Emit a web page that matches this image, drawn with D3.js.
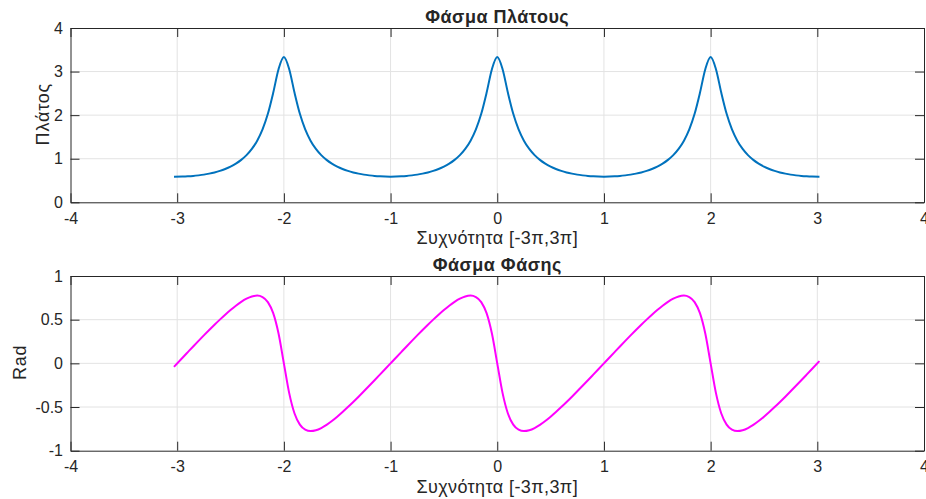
<!DOCTYPE html>
<html>
<head>
<meta charset="utf-8">
<script src="https://cdn.jsdelivr.net/npm/d3@7"></script>
<style>
  html, body { margin: 0; padding: 0; background: #fff; }
  svg { display: block; }
  text { font-family: "Liberation Sans", Arial, Helvetica, sans-serif; fill: #262626; }
</style>
</head>
<body>
<svg id="chart" width="926" height="499"></svg>
<script>
// Frequency samples, in units of pi (about -3pi .. 3pi)
const frequency = [
  -3.03,
  -2.95, -2.9, -2.85, -2.8, -2.75, -2.7, -2.65, -2.6, -2.55, -2.5, -2.45, -2.4, -2.35, -2.3, -2.25, -2.2, -2.15, -2.1, -2.05, -2,
  -1.95, -1.9, -1.85, -1.8, -1.75, -1.7, -1.65, -1.6, -1.55, -1.5, -1.45, -1.4, -1.35, -1.3, -1.25, -1.2, -1.15, -1.1, -1.05, -1,
  -0.95, -0.9, -0.85, -0.8, -0.75, -0.7, -0.65, -0.6, -0.55, -0.5, -0.45, -0.4, -0.35, -0.3, -0.25, -0.2, -0.15, -0.1, -0.05, 0,
  0.05, 0.1, 0.15, 0.2, 0.25, 0.3, 0.35, 0.4, 0.45, 0.5, 0.55, 0.6, 0.65, 0.7, 0.75, 0.8, 0.85, 0.9, 0.95, 1,
  1.05, 1.1, 1.15, 1.2, 1.25, 1.3, 1.35, 1.4, 1.45, 1.5, 1.55, 1.6, 1.65, 1.7, 1.75, 1.8, 1.85, 1.9, 1.95, 2,
  2.05, 2.1, 2.15, 2.2, 2.25, 2.3, 2.35, 2.4, 2.45, 2.5, 2.55, 2.6, 2.65, 2.7, 2.75, 2.8, 2.85, 2.9, 2.95, 3.02
];

// Amplitude spectrum |H|
const amplitude = [
  0.588,
  0.590, 0.595, 0.604, 0.618, 0.635, 0.658, 0.686, 0.721, 0.765, 0.819, 0.887, 0.973, 1.082, 1.224, 1.414, 1.673, 2.030, 2.512, 3.054, 3.333,
  3.054, 2.512, 2.030, 1.673, 1.414, 1.224, 1.082, 0.973, 0.887, 0.819, 0.765, 0.721, 0.686, 0.658, 0.635, 0.618, 0.604, 0.595, 0.590, 0.588,
  0.590, 0.595, 0.604, 0.618, 0.635, 0.658, 0.686, 0.721, 0.765, 0.819, 0.887, 0.973, 1.082, 1.224, 1.414, 1.673, 2.030, 2.512, 3.054, 3.333,
  3.054, 2.512, 2.030, 1.673, 1.414, 1.224, 1.082, 0.973, 0.887, 0.819, 0.765, 0.721, 0.686, 0.658, 0.635, 0.618, 0.604, 0.595, 0.590, 0.588,
  0.590, 0.595, 0.604, 0.618, 0.635, 0.658, 0.686, 0.721, 0.765, 0.819, 0.887, 0.973, 1.082, 1.224, 1.414, 1.673, 2.030, 2.512, 3.054, 3.333,
  3.054, 2.512, 2.030, 1.673, 1.414, 1.224, 1.082, 0.973, 0.887, 0.819, 0.765, 0.721, 0.686, 0.658, 0.635, 0.618, 0.604, 0.595, 0.590, 0.588
];

// Phase spectrum (rad)
const phase = [
  -0.04,
  0.0647, 0.1291, 0.1933, 0.2569, 0.3197, 0.3816, 0.4421, 0.5008, 0.5573, 0.6107, 0.6602, 0.7042, 0.7407, 0.7662, 0.7754, 0.7591, 0.7013, 0.5744, 0.3409, 0,
  -0.3409, -0.5744, -0.7013, -0.7591, -0.7754, -0.7662, -0.7407, -0.7042, -0.6602, -0.6107, -0.5573, -0.5008, -0.4421, -0.3816, -0.3197, -0.2569, -0.1933, -0.1291, -0.0647, 0,
  0.0647, 0.1291, 0.1933, 0.2569, 0.3197, 0.3816, 0.4421, 0.5008, 0.5573, 0.6107, 0.6602, 0.7042, 0.7407, 0.7662, 0.7754, 0.7591, 0.7013, 0.5744, 0.3409, 0,
  -0.3409, -0.5744, -0.7013, -0.7591, -0.7754, -0.7662, -0.7407, -0.7042, -0.6602, -0.6107, -0.5573, -0.5008, -0.4421, -0.3816, -0.3197, -0.2569, -0.1933, -0.1291, -0.0647, 0,
  0.0647, 0.1291, 0.1933, 0.2569, 0.3197, 0.3816, 0.4421, 0.5008, 0.5573, 0.6107, 0.6602, 0.7042, 0.7407, 0.7662, 0.7754, 0.7591, 0.7013, 0.5744, 0.3409, 0,
  -0.3409, -0.5744, -0.7013, -0.7591, -0.7754, -0.7662, -0.7407, -0.7042, -0.6602, -0.6107, -0.5573, -0.5008, -0.4421, -0.3816, -0.3197, -0.2569, -0.1933, -0.1291, -0.0647, 0.026
];

// Tick values
const xTicks = [-4, -3, -2, -1, 0, 1, 2, 3, 4];
const ampTicks = [0, 1, 2, 3, 4];
const phaseTicks = [-1, -0.5, 0, 0.5, 1];

const svg = d3.select("#chart");

const panels = [
  {
    title: "Φάσμα Πλάτους", ylabel: "Πλάτος", values: amplitude, color: "#0072BD",
    yDomain: [0, 4], yTicks: ampTicks, top: 28, bottom: 202.3, ylabelX: 48.5
  },
  {
    title: "Φάσμα Φάσης", ylabel: "Rad", values: phase, color: "#FF00FF",
    yDomain: [-1, 1], yTicks: phaseTicks, top: 276, bottom: 450.7, ylabelX: 26
  }
];

const left = 70.5, right = 924;
const x = d3.scaleLinear().domain([-4, 4]).range([left, right]);
const plain = d => String(d);

panels.forEach(p => {
  const y = d3.scaleLinear().domain(p.yDomain).range([p.bottom, p.top]);
  const g = svg.append("g");

  // grid
  g.append("g").selectAll("line").data(xTicks.slice(1, -1)).join("line")
    .attr("x1", d => x(d)).attr("x2", d => x(d))
    .attr("y1", p.top).attr("y2", p.bottom)
    .attr("stroke", "#e3e3e3").attr("stroke-width", 1);
  g.append("g").selectAll("line").data(p.yTicks.slice(1, -1)).join("line")
    .attr("x1", left).attr("x2", right)
    .attr("y1", d => y(d)).attr("y2", d => y(d))
    .attr("stroke", "#e3e3e3").attr("stroke-width", 1);

  // data curve
  const line = d3.line()
    .x((d, i) => x(frequency[i]))
    .y(d => y(d))
    .curve(d3.curveMonotoneX);
  g.append("path").datum(p.values)
    .attr("d", line)
    .attr("fill", "none")
    .attr("stroke", p.color)
    .attr("stroke-width", 2)
    .attr("stroke-linejoin", "round");

  // axes (ticks pointing inward, on all four sides)
  const tl = 9;
  g.append("g").attr("transform", `translate(0,${p.bottom})`)
    .call(d3.axisBottom(x).tickValues(xTicks).tickSizeInner(-tl).tickSizeOuter(0).tickPadding(10).tickFormat(plain));
  g.append("g").attr("transform", `translate(0,${p.top})`)
    .call(d3.axisTop(x).tickValues(xTicks).tickSizeInner(-tl).tickSizeOuter(0).tickFormat(""));
  g.append("g").attr("transform", `translate(${left},0)`)
    .call(d3.axisLeft(y).tickValues(p.yTicks).tickSizeInner(-tl).tickSizeOuter(0).tickPadding(7.5).tickFormat(plain));
  g.append("g").attr("transform", `translate(${right},0)`)
    .call(d3.axisRight(y).tickValues(p.yTicks).tickSizeInner(-tl).tickSizeOuter(0).tickFormat(""));

  g.selectAll(".domain").attr("stroke", "#262626");
  g.selectAll(".tick line").attr("stroke", "#262626");
  g.selectAll(".tick text").attr("font-size", 16).attr("fill", "#262626")
    .style("font-family", "'Liberation Sans', Arial, sans-serif");

  // title
  g.append("text").attr("x", x(0)).attr("y", p.top - 5)
    .attr("text-anchor", "middle").attr("font-size", 18).attr("font-weight", "bold")
    .attr("letter-spacing", 0.5)
    .text(p.title);

  // x label
  g.append("text").attr("x", x(0)).attr("y", p.bottom + 42)
    .attr("text-anchor", "middle").attr("font-size", 18).attr("letter-spacing", 0.4)
    .text("Συχνότητα [-3π,3π]");

  // y label
  g.append("text")
    .attr("transform", `translate(${p.ylabelX},${(p.top + p.bottom) / 2 - 1}) rotate(-90)`)
    .attr("text-anchor", "middle").attr("font-size", 18).attr("letter-spacing", 0.8)
    .text(p.ylabel);
});
</script>
</body>
</html>
